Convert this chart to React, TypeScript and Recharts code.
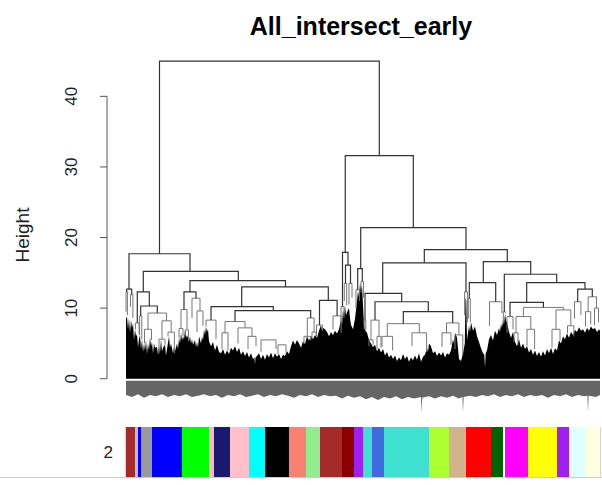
import { Area, Bar, BarChart, ComposedChart, Line, ReferenceArea, ReferenceLine, XAxis, YAxis } from 'recharts';

const FONT = '"Liberation Sans", Arial, sans-serif';

// merges: [leftX, rightX, mergeHeight, leftChildHeight, rightChildHeight] (x in leaf units)
const majorMerges = [
  [33.5, 253.3, 45.0, 17.7, 31.6],
  [3, 64, 17.7, 12.7, 15.2],
  [219.25, 287.3, 31.6, 17.9, 21.4],
  [216.5, 222, 17.9, 10.2, 16.1],
  [17.3, 112.3, 15.2, 12.3, 13.9],
  [0.7, 5.7, 12.7, 12.3, 11.9],
  [11.3, 23.3, 12.3, 7.9, 10.3],
  [64, 159.5, 13.9, 12.3, 13.0],
  [58, 70, 12.3, 9.8, 11.4],
  [115.7, 202.3, 13.0, 10.2, 11.1],
  [14.7, 31.3, 10.3, 8.9, 9.3],
  [85, 147.3, 10.2, 8.3, 9.65],
  [109, 184.7, 9.65, 8.1, 8.6],
  [193.5, 211.1, 11.1, 7.6, 8.9],
  [234.7, 340, 21.4, 15.6, 18.3],
  [298.3, 381.3, 18.3, 16.4, 16.6],
  [256.7, 340, 16.4, 12.1, 12.3],
  [357.3, 404.7, 16.6, 13.6, 14.8],
  [378.3, 430.7, 14.8, 9.5, 13.6],
  [343.3, 369.7, 13.6, 11.4, 10.9],
  [400.7, 459, 13.6, 10.8, 12.7],
  [239, 275.7, 12.1, 8.3, 10.9],
  [249, 302.3, 10.9, 8.3, 9.5],
  [277.3, 326.7, 9.5, 7.8, 7.9],
  [231.7, 236.3, 15.6, 12.6, 13.8],
  [219.5, 224.5, 16.1, 13.5, 13.5],
  [384, 417.4, 10.8, 8.8, 10.1],
  [451.7, 466.3, 12.7, 10.9, 11.6],
];

const minorMerges = [
  [0, 1.4, 12.3, 9.5, 9.0],
  [4.5, 6.9, 11.9, 10.2, 8.6],
  [9.5, 13.1, 7.9, 7.0, 6.3],
  [13.6, 15.8, 8.9, 6.2, 5.6],
  [22, 40.6, 9.3, 7.0, 8.2],
  [36, 45.2, 8.2, 5.6, 6.6],
  [33, 39, 5.6, 3.6, 4.8],
  [42, 48.4, 6.6, 6.0, 3.6],
  [18.5, 25.5, 7.0, 5.0, 5.5],
  [55, 61, 9.8, 7.1, 6.9],
  [53, 57, 7.1, 5.8, 6.0],
  [59.5, 62.5, 6.9, 6.2, 5.3],
  [66, 74, 11.4, 8.6, 9.6],
  [71, 77, 9.6, 6.6, 7.5],
  [80, 90, 8.3, 7.4, 5.6],
  [99, 119, 8.1, 6.5, 7.2],
  [96, 102, 6.5, 4.2, 4.0],
  [112, 126, 7.2, 5.0, 6.0],
  [122, 130, 6.0, 4.2, 4.6],
  [135, 150, 5.5, 3.8, 4.2],
  [152, 160, 4.8, 3.5, 3.6],
  [181.3, 188.1, 8.6, 6.0, 6.6],
  [178, 184.6, 6.0, 4.9, 5.4],
  [186, 190.2, 6.6, 5.6, 6.2],
  [207, 215.2, 8.9, 7.0, 6.5],
  [190.5, 196.5, 7.6, 6.0, 6.8],
  [215, 218, 10.2, 8.0, 8.6],
  [218.3, 220.7, 13.5, 11.0, 10.4],
  [223, 226, 13.5, 10.5, 11.5],
  [230, 233.4, 12.6, 10.0, 11.0],
  [235, 237.6, 13.8, 12.2, 11.5],
  [238.2, 239.8, 8.3, 7.0, 6.9],
  [245, 253, 8.3, 5.5, 6.0],
  [243, 247, 5.5, 4.6, 4.8],
  [251, 255, 6.0, 4.2, 4.4],
  [261.3, 293.3, 7.8, 6.0, 6.5],
  [256, 266.6, 6.0, 4.5, 4.0],
  [286, 300.6, 6.5, 4.6, 3.8],
  [320.5, 332.9, 7.9, 6.5, 6.2],
  [316, 325, 6.5, 4.5, 4.8],
  [329, 336.8, 6.2, 4.2, 3.4],
  [338.6, 341.4, 12.3, 9.0, 8.0],
  [342.3, 344.3, 11.4, 8.5, 8.0],
  [363.5, 375.9, 10.9, 7.5, 9.3],
  [377.3, 379.3, 9.5, 8.0, 9.3],
  [381, 387, 8.8, 6.5, 7.0],
  [397.4, 437.4, 10.1, 8.8, 9.75],
  [390, 404.8, 8.8, 6.5, 7.0],
  [388, 392, 6.5, 5.2, 4.8],
  [401, 408.6, 7.0, 4.6, 4.2],
  [430, 444.8, 9.75, 7.0, 7.5],
  [426, 434, 7.0, 4.4, 5.4],
  [441.5, 447.9, 7.5, 6.4, 6.0],
  [448.5, 454.9, 10.9, 8.5, 9.0],
  [462.1, 470.5, 11.6, 9.5, 10.0],
  [468.5, 472.5, 10.0, 7.6, 8.0],
  [459.5, 464.7, 9.5, 7.4, 7.7],
];

// dense low-level branches, drawn as a filled silhouette [x, height]
const massProfile = [
  [0, 8.5], [1, 8.8], [2, 7.0], [3, 8.6], [4, 6.5], [5, 8.3], [6, 7.2], [7, 7.9], [8, 5.5], [9, 7.0],
  [10, 6.0], [11, 6.3], [12, 4.5], [13, 5.6], [14, 6.2], [15, 4.2], [16, 5.6], [17, 3.8], [18, 5.0], [19, 4.0],
  [20, 5.5], [21, 3.5], [22, 5.0], [23, 4.0], [24, 5.9], [25, 4.6], [26, 5.2], [27, 3.6], [28, 5.0], [29, 4.4],
  [31, 4.5], [32, 3.4], [33, 4.6], [34, 3.7], [35, 5.6], [36, 3.9], [37, 4.4], [39, 4.8], [40, 3.3], [41, 4.2],
  [43, 6.0], [44, 4.4], [45, 5.0], [47, 3.6], [48, 4.6], [49, 3.9], [51, 5.0], [52, 4.2], [53, 5.8], [54, 5.0],
  [55, 6.5], [56, 5.4], [57, 6.0], [58, 5.6], [59, 7.0], [60, 5.8], [61, 6.2], [63, 5.3], [64, 6.0], [65, 5.0],
  [66, 5.6], [67, 4.8], [69, 5.5], [70, 4.5], [71, 5.2], [72, 4.4], [73, 6.0], [75, 5.0], [76, 6.0], [77, 5.4],
  [78, 7.0], [79, 6.2], [80, 7.4], [81, 6.6], [82, 7.0], [83, 5.3], [85, 4.6], [87, 5.2], [89, 4.0], [91, 4.8],
  [93, 3.8], [95, 3.6], [97, 4.2], [99, 3.4], [101, 4.0], [103, 3.5], [105, 4.4], [107, 4.0], [109, 4.6], [111, 3.8],
  [113, 4.4], [115, 3.4], [117, 3.9], [119, 3.2], [121, 3.8], [123, 3.0], [125, 3.6], [127, 2.8], [128.5, 3.0], [129, 2.0],
  [129.5, 3.0], [131, 3.2], [133, 3.6], [135, 2.8], [137, 3.4], [139, 2.7], [141, 3.5], [143, 3.0], [145, 3.7], [147, 2.9],
  [149, 3.6], [151, 3.1], [153, 3.5], [155, 2.8], [157, 3.4], [159, 3.2], [161, 3.9], [163, 3.5], [165, 4.6], [167, 5.4],
  [169, 4.8], [171, 5.5], [173, 5.0], [175, 4.4], [177, 5.3], [179, 4.9], [181, 6.0], [183, 5.4], [185, 6.1], [187, 5.6],
  [189, 6.2], [191, 5.8], [193, 6.8], [195, 7.6], [196, 6.8], [197, 7.2], [199, 7.0], [201, 6.6], [203, 6.0], [205, 6.6],
  [207, 6.2], [209, 6.8], [211, 6.4], [213, 7.0], [215, 8.4], [216, 7.6], [217, 9.8], [218, 8.8], [219, 10.4], [220, 9.0],
  [221, 9.4], [223, 10.0], [224, 8.6], [225, 7.6], [227, 7.0], [229, 8.5], [231, 11.0], [232, 12.4], [233, 11.6], [234, 13.5],
  [235, 12.6], [236, 13.2], [237, 10.5], [238, 7.5], [239, 6.9], [241, 6.5], [243, 5.5], [245, 5.0], [247, 4.5], [249, 4.8],
  [251, 3.9], [253, 4.4], [255, 3.7], [257, 4.2], [259, 3.3], [261, 3.8], [263, 3.0], [265, 3.4], [267, 2.8], [269, 3.3],
  [271, 2.5], [273, 3.0], [275, 2.6], [277, 3.5], [279, 2.8], [281, 3.2], [283, 2.4], [285, 3.0], [287, 2.6], [289, 3.3],
  [291, 2.7], [293, 3.6], [295, 2.4], [297, 3.1], [299, 3.4], [301, 4.4], [302, 3.8], [303, 5.0], [305, 4.6], [307, 3.6],
  [309, 3.9], [311, 3.2], [313, 3.7], [315, 3.3], [317, 3.8], [319, 3.0], [321, 3.6], [323, 3.4], [325, 4.0], [327, 5.6],
  [328, 5.0], [329, 6.5], [331, 5.8], [333, 2.8], [335, 2.5], [337, 3.6], [338.8, 5.0], [339.5, 11.5], [340.3, 11.0], [341, 5.5],
  [343, 7.5], [344, 6.6], [345, 8.0], [347, 6.8], [349, 7.4], [351, 6.0], [353, 5.2], [355, 4.3], [357, 3.6], [358.3, 3.4],
  [359, 1.6], [359.7, 3.6], [361, 4.0], [363, 5.6], [365, 6.2], [367, 5.4], [369, 6.8], [371, 6.2], [373, 7.2], [374, 6.6],
  [375, 7.8], [376, 7.2], [377, 8.4], [378, 7.6], [379, 9.2], [380, 8.2], [381, 8.0], [383, 6.6], [385, 5.8], [387, 6.6],
  [389, 5.2], [391, 4.6], [393, 5.6], [395, 4.4], [397, 5.0], [399, 4.2], [401, 4.6], [403, 3.7], [405, 4.2], [407, 3.4],
  [409, 4.0], [411, 3.2], [413, 3.8], [415, 3.1], [417, 3.9], [419, 3.3], [421, 4.2], [423, 3.6], [425, 4.4], [427, 3.5],
  [429, 4.3], [431, 4.0], [433, 5.4], [435, 5.0], [437, 6.0], [439, 5.6], [441, 6.4], [443, 5.8], [445, 6.6], [447, 6.2],
  [449, 6.9], [451, 6.6], [453, 7.3], [455, 6.8], [457, 7.0], [459, 6.5], [461, 7.2], [463, 6.8], [465, 7.4], [467, 7.0],
  [469, 7.2], [471, 6.6], [473, 7.0], [474, 6.8],
];

// leaf label strip under the tree: lower edge [x, height]
const labelTop = -0.3;
const labelBottom = [
  [0, -2.3], [6, -2.6], [12, -2.2], [18, -2.7], [24, -2.3], [30, -2.5], [36, -2.2], [42, -2.6], [48, -2.3], [54, -2.5],
  [60, -2.2], [66, -2.6], [72, -2.4], [78, -2.2], [84, -2.5], [90, -2.3], [96, -2.7], [102, -2.3], [108, -2.5], [114, -2.2],
  [120, -2.6], [126, -2.4], [132, -2.2], [138, -2.6], [144, -2.3], [150, -2.5], [156, -2.2], [162, -2.4], [168, -2.7], [174, -2.3],
  [180, -2.5], [186, -2.2], [192, -2.6], [198, -2.3], [204, -2.5], [210, -2.4], [216, -2.8], [222, -2.4], [228, -2.7], [234, -2.5],
  [240, -2.9], [246, -2.6], [252, -3.0], [258, -2.6], [264, -2.8], [270, -2.5], [276, -2.9], [282, -2.6], [288, -2.8], [295, -2.6],
  [295.6, -4.9], [296.2, -2.7], [303, -2.5], [309, -2.8], [315, -2.5], [321, -2.7], [327, -2.4], [333, -2.8], [336.4, -2.6], [337, -4.8],
  [337.6, -2.6], [344, -2.4], [350, -2.6], [356, -2.3], [362, -2.5], [368, -2.2], [374, -2.6], [380, -2.3], [386, -2.5], [392, -2.2],
  [398, -2.6], [404, -2.3], [410, -2.5], [416, -2.3], [422, -2.7], [428, -2.3], [434, -2.5], [440, -2.2], [446, -2.6], [452, -2.3],
  [458, -2.5], [461.4, -2.4], [462, -4.7], [462.6, -2.4], [470, -2.6], [474, -2.3],
];

const yTicks = [0, 10, 20, 30, 40];

// module colour strip, sizes in leaf units
const moduleColors = [
  '#A52A2A', '#BEBEBE', '#0000FF', '#999999', '#0000FF', '#00FF00', '#FFB6C1', '#191970', '#FFC0CB', '#00FFFF',
  '#000000', '#FA8072', '#90EE90', '#A52A2A', '#8B0000', '#A020F0', '#40E0D0', '#4169E1', '#40E0D0', '#ADFF2F',
  '#D2B48C', '#FF0000', '#006400', '#FFFFFF', '#FF00FF', '#FFFF00', '#A020F0', '#E0FFFF', '#FFFFE0',
];
const moduleSizes = [9, 3, 3, 11, 30, 27, 5, 16, 19, 16, 24, 17, 14, 22, 12, 9, 9, 12, 45, 20, 17, 25, 12, 2, 23, 29, 12, 17, 14];

const toPath = (merges: number[][]) =>
  merges.flatMap(([x1, x2, h, h1, h2]) => [
    { x: x1, y: h1 },
    { x: x1, y: h },
    { x: x2, y: h },
    { x: x2, y: h2 },
    { x: x2, y: null },
  ]);

const majorPath = toPath(majorMerges);
const minorPath = toPath(minorMerges);
const massData = massProfile.map(([x, h]) => ({ x, h }));
const labelData = labelBottom.map(([x, lo]) => ({ x, band: [lo, labelTop] }));

const stripRow: Record<string, any> = { name: '2' };
moduleSizes.forEach((s, i) => (stripRow[`m${i}`] = s));

const HeightTick = ({ y, payload }: any) => (
  <text x={77.5} y={y} transform={`rotate(-90 77.5 ${y})`} textAnchor="middle" fontSize={17} fill="#222" fontFamily={FONT}>
    {payload.value}
  </text>
);

export default function App() {
  return (
    <div style={{ position: 'fixed', left: 0, top: 0, width: 602, height: 485, background: '#fff', overflow: 'hidden' }}>
      <div style={{ position: 'absolute', left: 0, top: 14, width: 722, textAlign: 'center', font: `bold 25px ${FONT}`, lineHeight: '25px', color: '#000' }}>
        All_intersect_early
      </div>
      <div style={{ position: 'absolute', left: -28.5, top: 225, width: 100, height: 20, lineHeight: '20px', textAlign: 'center', font: `19px ${FONT}`, color: '#222', transform: 'rotate(-90deg)' }}>
        Height
      </div>

      <div style={{ position: 'absolute', left: 0, top: 0 }}>
        <ComposedChart width={602} height={420} margin={{ top: 54, right: 1, bottom: 6, left: 0 }}>
          <XAxis dataKey="x" type="number" domain={[-19, 475]} hide allowDataOverflow />
          <YAxis
            type="number"
            domain={[-5, 46]}
            ticks={yTicks}
            width={107}
            tickSize={7}
            axisLine={false}
            tickLine={{ stroke: '#555' }}
            tick={(p: any) => <HeightTick {...p} />}
            allowDataOverflow
          />
          <ReferenceLine segment={[{ x: -19, y: 0 }, { x: -19, y: 40 }]} stroke="#555" ifOverflow="visible" />
          <Area data={labelData} dataKey="band" type="linear" fill="#4a4a4a" fillOpacity={0.85} stroke="none" isAnimationActive={false} />
          <Area data={massData} dataKey="h" type="linear" baseValue={0} fill="#000" fillOpacity={1} stroke="none" isAnimationActive={false} />
          <Line data={minorPath} dataKey="y" type="linear" stroke="#777" strokeWidth={1} dot={false} activeDot={false} connectNulls={false} isAnimationActive={false} />
          <Line data={majorPath} dataKey="y" type="linear" stroke="#333" strokeWidth={1.2} dot={false} activeDot={false} connectNulls={false} isAnimationActive={false} />
        </ComposedChart>
      </div>

      <div style={{ position: 'absolute', left: 0, top: 427 }}>
        <BarChart width={602} height={50} layout="vertical" data={[stripRow]} margin={{ top: 0, right: 2, bottom: 0, left: 0 }} barCategoryGap={0}>
          <XAxis type="number" domain={[0, 474]} hide allowDataOverflow />
          <YAxis
            type="category"
            dataKey="name"
            width={126}
            tickSize={0}
            tickMargin={13}
            axisLine={false}
            tickLine={false}
            tick={{ fontSize: 17, fill: '#222', fontFamily: FONT }}
          />
          {moduleSizes.map((_, i) => (
            <Bar key={i} dataKey={`m${i}`} stackId="strip" fill={moduleColors[i]} isAnimationActive={false} />
          ))}
          <ReferenceArea x1={0} x2={474} fill="none" stroke="#aaa" ifOverflow="visible" />
        </BarChart>
      </div>
      <div style={{ position: 'absolute', left: 0, top: 477, width: 602, height: 1, background: '#ccc' }} />
    </div>
  );
}
